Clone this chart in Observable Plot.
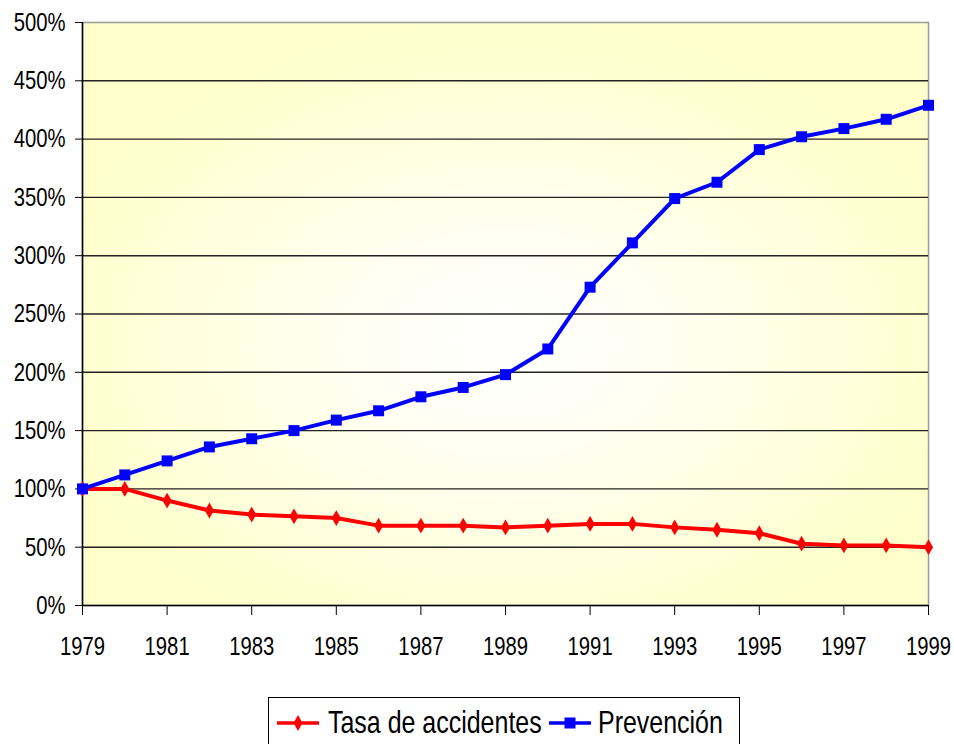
<!DOCTYPE html>
<html>
<head>
<meta charset="utf-8">
<script src="https://cdn.jsdelivr.net/npm/d3@7"></script>
<script src="https://cdn.jsdelivr.net/npm/@observablehq/plot@0.6"></script>
<style>
  html, body { margin: 0; padding: 0; background: #fff; }
  body { width: 954px; height: 744px; position: relative; overflow: hidden; }
  #legend {
    position: absolute; left: 268px; top: 697px; width: 472px; height: 60px;
    border: 1px solid #000; background: #fff; box-sizing: border-box;
    font-family: "Liberation Sans", Arial, sans-serif;
    font-size: 32px; color: #000;
  }
  #legend .sample { position: absolute; top: 15px; display: block; }
  #legend .label { position: absolute; top: 6px; white-space: nowrap; line-height: 36px;
    transform: scaleX(0.78); transform-origin: 0 50%; }
</style>
</head>
<body>
<div id="chart"></div>
<div id="legend"></div>
<script>
const years = [1979,1980,1981,1982,1983,1984,1985,1986,1987,1988,1989,1990,1991,1992,1993,1994,1995,1996,1997,1998,1999];
const tasaAccidentes = [100,100,90,81.5,78,76.5,75,68.5,68.5,68.5,67,68.5,70,70,67,65,62,53,51.5,51.5,50];
const prevencion = [100,112,124,136,143,150,159,167,179,187,198,220,273,311,349,363,391,402,409,417,429];
const seriesNames = ["Tasa de accidentes", "Prevención"];
const seriesColors = ["#ff0000", "#0000ff"];
const yTicks = [0,50,100,150,200,250,300,350,400,450,500];
const xTicks = [1979,1981,1983,1985,1987,1989,1991,1993,1995,1997,1999];

const tasaData = years.map((y, i) => ({year: y, value: tasaAccidentes[i]}));
const prevData = years.map((y, i) => ({year: y, value: prevencion[i]}));

const font = '"Liberation Sans", Arial, sans-serif';

const chart = Plot.plot({
  width: 954,
  height: 690,
  marginLeft: 82,
  marginRight: 26,
  marginTop: 22,
  marginBottom: 85,
  style: {fontFamily: font, fontSize: "26px", color: "#000", background: "transparent", overflow: "visible"},
  x: {domain: [1979, 1999], label: null},
  y: {domain: [0, 500], label: null},
  marks: [
    Plot.frame({fill: "url(#bgGrad)", stroke: "#999", strokeWidth: 1.5}),
    Plot.ruleY(yTicks.filter(d => d > 0 && d < 500), {stroke: "#222", strokeWidth: 1.4}),
    Plot.ruleX([1979], {stroke: "#000", strokeWidth: 1.5}),
    Plot.ruleY([0], {stroke: "#000", strokeWidth: 1.5}),
    Plot.axisY({ticks: yTicks, tickFormat: d => d + "%", tickSize: 7, tickPadding: 10, label: null, fontSize: 26}),
    Plot.axisX({ticks: xTicks, tickFormat: d => String(d), tickSize: 10, tickPadding: 21, label: null, fontSize: 26}),
    Plot.line(tasaData, {x: "year", y: "value", stroke: seriesColors[0], strokeWidth: 4}),
    Plot.dot(tasaData, {x: "year", y: "value", symbol: "diamond", r: 4.8, fill: seriesColors[0], stroke: "none"}),
    Plot.line(prevData, {x: "year", y: "value", stroke: seriesColors[1], strokeWidth: 4}),
    Plot.dot(prevData, {x: "year", y: "value", symbol: "square", r: 6.2, fill: seriesColors[1], stroke: "none"})
  ]
});

const svg = d3.select(chart.tagName.toLowerCase() === "svg" ? chart : chart.querySelector("svg"));
const defs = svg.insert("defs", ":first-child");
const grad = defs.append("radialGradient").attr("id", "bgGrad")
  .attr("cx", "0.5").attr("cy", "0.55").attr("r", "0.55");
grad.append("stop").attr("offset", "0").attr("stop-color", "#ffffff");
grad.append("stop").attr("offset", "0.35").attr("stop-color", "#fffff2");
grad.append("stop").attr("offset", "1").attr("stop-color", "#ffffcc");

// condensed look for tick labels (narrow sans)
svg.selectAll("g[aria-label='x-axis tick label'] text, g[aria-label='y-axis tick label'] text").each(function () {
  const t = this.getAttribute("transform") || "";
  this.setAttribute("transform", (t + " scale(0.78,1)").trim());
});

document.getElementById("chart").appendChild(chart);

// legend
const legend = d3.select("#legend");
const items = [
  {name: seriesNames[0], color: seriesColors[0], symbol: "diamond", sx: 7, tx: 59},
  {name: seriesNames[1], color: seriesColors[1], symbol: "square", sx: 279, tx: 329}
];
items.forEach(it => {
  const s = legend.append("svg").attr("class", "sample").style("left", it.sx + "px")
    .attr("width", 46).attr("height", 20);
  s.append("line").attr("x1", 1).attr("x2", 43).attr("y1", 10).attr("y2", 10)
    .attr("stroke", it.color).attr("stroke-width", 3.5);
  if (it.symbol === "diamond") {
    s.append("path").attr("d", "M22,2 L26.5,10 L22,18 L17.5,10 Z").attr("fill", it.color);
  } else {
    s.append("rect").attr("x", 16.5).attr("y", 4.5).attr("width", 11).attr("height", 11).attr("fill", it.color);
  }
  legend.append("span").attr("class", "label").style("left", it.tx + "px").text(it.name);
});
</script>
</body>
</html>
